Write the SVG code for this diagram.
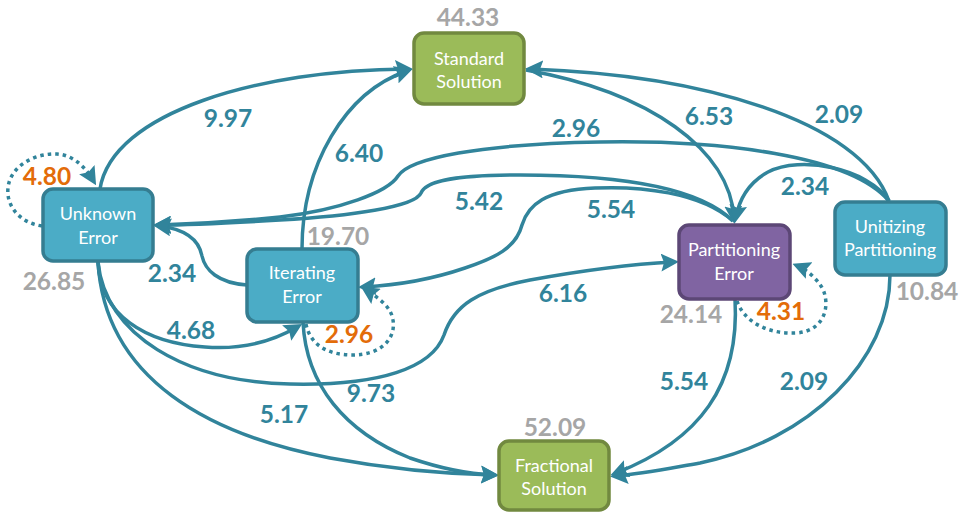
<svg xmlns="http://www.w3.org/2000/svg" width="963" height="514" viewBox="0 0 963 514">
  <style>
    .edge { fill: none; stroke: #31849B; stroke-width: 3.5; marker-end: url(#arrow); }
    .loop { fill: none; stroke: #31849B; stroke-width: 3.5; stroke-dasharray: 3.5 4; marker-end: url(#arrow); }
    .box { stroke-width: 3.5; }
    .blue { fill: #4BACC6; stroke: #357D91; }
    .green { fill: #9BBB59; stroke: #71893F; }
    .purple { fill: #8064A2; stroke: #5C4776; }
    .name { font-family: Lato, "Open Sans", sans-serif; font-size: 18px; fill: #FFFFFF; text-anchor: middle; }
    .num { font-family: Lato, "Open Sans", sans-serif; font-size: 24.5px; font-weight: bold; text-anchor: middle; }
    .w { fill: #31849B; }
    .g { fill: #A6A6A6; }
    .o { fill: #E36C09; }
  </style>
  <defs>
    <marker id="arrow" viewBox="0 0 18 18" markerWidth="18" markerHeight="18" markerUnits="userSpaceOnUse" refX="12" refY="9" orient="auto">
      <path d="M0,0 L18,9 L0,18 L3,9 z" fill="#31849B"/>
    </marker>
  </defs>

  <g id="connectors">
    <!-- to Standard Solution -->
    <path class="edge" d="M100,189 C 112,112 260,70 407,69"/>
    <path class="edge" d="M302,249 C 302,165 345,92 407,71"/>
    <path class="edge" d="M889,201 C 860,120 700,75 531,69"/>
    <!-- to Partitioning Error -->
    <path class="edge" d="M526,70 C 650,92 730,150 734,218"/>
    <path class="edge" d="M889,201 C 868,168 800,155 768,172 C 750,182 740,196 736,217"/>
    <path class="edge" d="M98,262 C 105,335 185,382 290,384 C 380,386 432,368 444,335 C 454,305 478,290 530,280 C 585,270 635,264 673,262"/>
    <!-- to Unknown Error -->
    <path class="edge" d="M889,201 C 850,155 720,140 600,142 C 480,144 410,158 398,176 C 388,192 340,210 280,217 C 230,222 190,224 159,225"/>
    <path class="edge" d="M733,221 C 700,188 620,175 520,175 C 445,175 425,183 421,193 C 415,207 350,216 280,220 C 230,223 190,225 159,225"/>
    <path class="edge" d="M247,285 C 218,283 205,270 202,256 C 199,240 185,229 159,226"/>
    <!-- to Iterating Error -->
    <path class="edge" d="M733,221 C 700,192 640,186 595,188 C 545,190 528,205 522,225 C 516,248 495,258 465,268 C 430,280 400,285 364,287"/>
    <path class="edge" d="M98,262 C 100,315 145,343 205,347 C 245,350 275,340 297,327"/>
    <!-- to Fractional Solution -->
    <path class="edge" d="M98,262 C 105,380 210,435 330,458 C 400,471 450,474 493,475"/>
    <path class="edge" d="M303,322 C 306,385 345,432 410,458 C 445,470 470,474 493,475"/>
    <path class="edge" d="M735,299 C 740,385 700,440 616,473"/>
    <path class="edge" d="M890,275 C 890,360 810,440 700,463 C 660,470 640,474 616,476"/>
    <!-- self loops -->
    <path class="loop" d="M42,226 C 20,223 6,206 8,188 C 10,166 35,153 57,154 C 75,155 87,170 93,180"/>
    <path class="loop" d="M306,324 C 310,345 328,355 352,355 C 382,355 396,338 393,320 C 391,306 377,297 366,290"/>
    <path class="loop" d="M737,301 C 744,322 768,334 795,333 C 822,332 830,310 824,292 C 821,283 808,270 798,266"/>
  </g>

  <g id="edge-labels">
    <text class="num w" x="228" y="127">9.97</text>
    <text class="num w" x="359" y="162">6.40</text>
    <text class="num w" x="576" y="137">2.96</text>
    <text class="num w" x="709" y="125">6.53</text>
    <text class="num w" x="839" y="123">2.09</text>
    <text class="num w" x="805" y="195">2.34</text>
    <text class="num w" x="479" y="210">5.42</text>
    <text class="num w" x="611" y="218">5.54</text>
    <text class="num w" x="172" y="282">2.34</text>
    <text class="num w" x="563" y="302">6.16</text>
    <text class="num w" x="191" y="339">4.68</text>
    <text class="num w" x="371" y="402">9.73</text>
    <text class="num w" x="284" y="423">5.17</text>
    <text class="num w" x="684" y="390">5.54</text>
    <text class="num w" x="804" y="390">2.09</text>
    <text class="num o" x="47" y="185">4.80</text>
    <text class="num o" x="349" y="343">2.96</text>
    <text class="num o" x="781" y="320">4.31</text>
  </g>

  <g id="standard-solution">
    <rect class="box green" x="414" y="33" width="110" height="71" rx="10"/>
    <text class="name" x="469" y="65">Standard</text>
    <text class="name" x="469" y="88">Solution</text>
    <text class="num g" x="468" y="26">44.33</text>
  </g>
  <g id="fractional-solution">
    <rect class="box green" x="499" y="441" width="110" height="69" rx="10"/>
    <text class="name" x="554" y="472">Fractional</text>
    <text class="name" x="554" y="495">Solution</text>
    <text class="num g" x="555" y="436">52.09</text>
  </g>
  <g id="unknown-error">
    <rect class="box blue" x="43" y="189" width="110" height="72" rx="10"/>
    <text class="name" x="98" y="220">Unknown</text>
    <text class="name" x="98" y="244">Error</text>
    <text class="num g" x="54" y="290">26.85</text>
  </g>
  <g id="iterating-error">
    <rect class="box blue" x="247" y="249" width="111" height="73" rx="10"/>
    <text class="name" x="302" y="279">Iterating</text>
    <text class="name" x="302" y="303">Error</text>
    <text class="num g" x="338" y="245">19.70</text>
  </g>
  <g id="partitioning-error">
    <rect class="box purple" x="679" y="225" width="111" height="74" rx="10"/>
    <text class="name" x="734" y="256">Partitioning</text>
    <text class="name" x="734" y="280">Error</text>
    <text class="num g" x="691" y="323">24.14</text>
  </g>
  <g id="unitizing-partitioning">
    <rect class="box blue" x="835" y="202" width="111" height="73" rx="10"/>
    <text class="name" x="890" y="233">Unitizing</text>
    <text class="name" x="890" y="256">Partitioning</text>
    <text class="num g" x="927" y="300">10.84</text>
  </g>
</svg>
